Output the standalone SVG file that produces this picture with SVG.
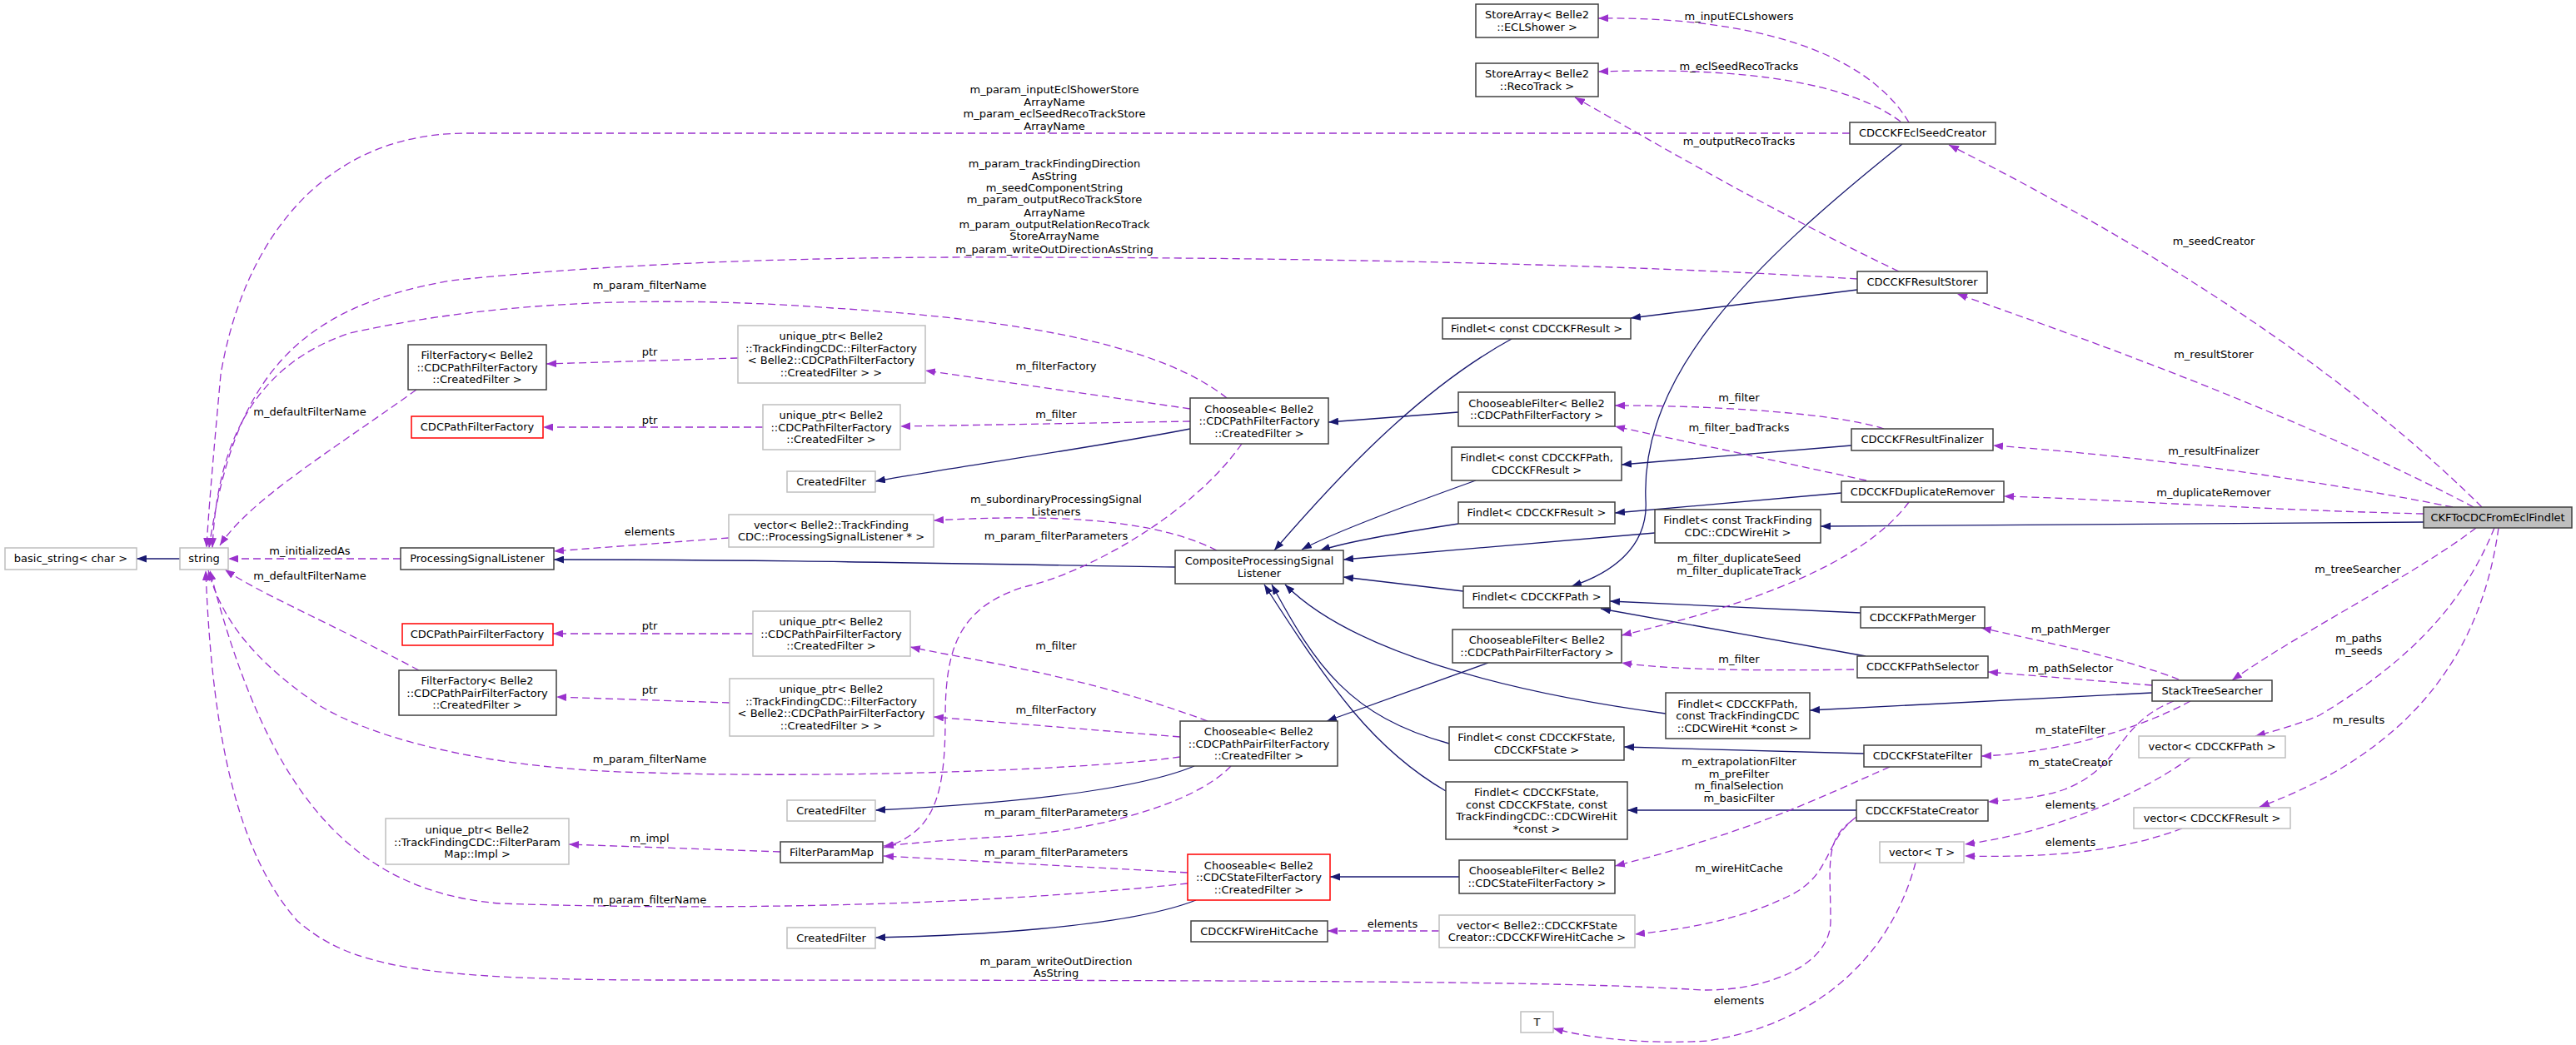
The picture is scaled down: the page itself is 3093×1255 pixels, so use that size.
<svg xmlns="http://www.w3.org/2000/svg" width="3093" height="1255" viewBox="0 0 3093 1255">
<style>
text{font-family:"DejaVu Sans","Liberation Sans",sans-serif;font-size:13px;fill:#000;text-anchor:middle}
.nb{fill:#fff;stroke:#404040;stroke-width:1.5}
.ng{fill:#fff;stroke:#bfbfbf;stroke-width:1.5}
.nr{fill:#fff;stroke:#ff0000;stroke-width:1.5}
.nm{fill:#bfbfbf;stroke:#404040;stroke-width:1.5}
.inh{fill:none;stroke:#191970;stroke-width:1.3;marker-end:url(#an)}
.use{fill:none;stroke:#9a32cd;stroke-width:1.3;stroke-dasharray:9,5;marker-end:url(#ap)}
</style>
<defs>
<marker id="an" markerUnits="userSpaceOnUse" markerWidth="12" markerHeight="9" refX="12" refY="4.5" orient="auto"><path d="M0,0 L12,4.5 L0,9 z" fill="#191970"/></marker>
<marker id="ap" markerUnits="userSpaceOnUse" markerWidth="12" markerHeight="9" refX="12" refY="4.5" orient="auto"><path d="M0,0 L12,4.5 L0,9 z" fill="#9a32cd"/></marker>
</defs>
<rect width="3093" height="1255" fill="#fff"/>
<g id="connectors">
<path class="inh" d="M216,671 L164,671"/>
<path class="inh" d="M1411,681 C1100,676 900,672 665,672"/>
<path class="inh" d="M1429,515 C1300,540 1150,560 1051,578"/>
<path class="inh" d="M1751,495 L1595,507"/>
<path class="inh" d="M1815,407 C1700,470 1600,580 1530,661"/>
<path class="inh" d="M2230,348 L1958,382"/>
<path class="inh" d="M2284,173 C2100,320 1970,450 1976,600 C1980,660 1930,690 1887,704"/>
<path class="inh" d="M2223,535 L1947,558"/>
<path class="inh" d="M1772,577 C1680,610 1600,640 1563,660"/>
<path class="inh" d="M1751,629 C1680,640 1620,650 1585,661"/>
<path class="inh" d="M1987,640 L1613,672"/>
<path class="inh" d="M1757,710 L1613,693"/>
<path class="inh" d="M2000,857 C1800,830 1620,780 1543,702"/>
<path class="inh" d="M1740,893 C1620,860 1580,800 1527,702"/>
<path class="inh" d="M1736,950 C1650,900 1600,830 1518,702"/>
<path class="inh" d="M1787,796 L1593,866"/>
<path class="inh" d="M1752,1053 L1597,1053"/>
<path class="inh" d="M1434,920 C1350,955 1150,968 1051,973"/>
<path class="inh" d="M1436,1081 C1350,1115 1150,1124 1051,1126"/>
<path class="inh" d="M2211,592 L1939,616"/>
<path class="inh" d="M2910,627 L2186,632"/>
<path class="inh" d="M2234,736 L1933,722"/>
<path class="inh" d="M2240,788 L1922,731"/>
<path class="inh" d="M2584,832 L2173,853"/>
<path class="inh" d="M2238,905 L1950,897"/>
<path class="inh" d="M2229,973 L1954,973"/>

<path class="use" d="M2292,147 C2240,60 2100,20 1919,22"/>
<path class="use" d="M2282,146 C2220,100 2100,80 1919,86"/>
<path class="use" d="M2280,326 C2100,240 1950,150 1891,117"/>
<path class="use" d="M2221,160 L560,160 C380,160 290,300 265,450 C255,560 250,620 248,658"/>
<path class="use" d="M2230,335 C2000,320 1600,308 1137,309 C900,310 700,320 541,337 C350,370 280,460 251,658"/>
<path class="use" d="M1473,478 C1400,420 1250,385 1000,370 C800,355 600,360 420,400 C300,440 260,540 255,658"/>
<path class="use" d="M500,468 C400,540 300,600 264,655"/>
<path class="use" d="M886,430 L656,437"/>
<path class="use" d="M916,513 L652,513"/>
<path class="use" d="M1429,491 L1111,445"/>
<path class="use" d="M1429,506 L1081,512"/>
<path class="use" d="M1491,533 C1430,620 1300,690 1229,705 C1150,730 1135,780 1135,863 C1135,960 1120,1000 1061,1018"/>
<path class="use" d="M1461,661 C1380,620 1250,618 1121,625"/>
<path class="use" d="M875,646 L665,662"/>
<path class="use" d="M481,671 L274,671"/>
<path class="use" d="M503,805 C400,750 310,712 270,684"/>
<path class="use" d="M904,761 L664,761"/>
<path class="use" d="M876,844 L668,837"/>
<path class="use" d="M1450,866 C1300,810 1150,790 1093,777"/>
<path class="use" d="M1417,885 L1121,861"/>
<path class="use" d="M1417,909 C1300,925 1000,935 780,928 C600,925 450,890 380,845 C300,790 265,740 250,685"/>
<path class="use" d="M1478,920 C1430,970 1300,1000 1200,1005 C1150,1008 1100,1012 1061,1016"/>
<path class="use" d="M1426,1048 L1061,1028"/>
<path class="use" d="M1426,1061 C1200,1085 900,1095 600,1085 C420,1070 320,950 252,685"/>
<path class="use" d="M937,1023 L683,1014"/>
<path class="use" d="M2223,986 C2190,1010 2198,1040 2198,1106 C2198,1160 2120,1190 2045,1189 C1900,1180 1700,1177 800,1177 C500,1177 420,1160 357,1106 C290,1030 255,900 247,685"/>
<path class="use" d="M2229,981 C2190,1010 2200,1050 2150,1075 C2080,1110 2000,1118 1963,1122"/>
<path class="use" d="M1728,1118 L1594,1118"/>
<path class="use" d="M2300,1036 C2270,1150 2180,1230 2050,1250 C1970,1255 1900,1245 1865,1235"/>
<path class="use" d="M2241,577 L1939,512"/>
<path class="use" d="M2262,515 C2200,495 2050,487 1939,487"/>
<path class="use" d="M2292,603 C2250,660 2150,715 1947,763"/>
<path class="use" d="M2226,804 C2100,806 2000,804 1947,796"/>
<path class="use" d="M2269,921 C2180,960 2100,1000 1939,1040"/>
<path class="use" d="M2980,609 C2850,480 2650,330 2340,174"/>
<path class="use" d="M2970,609 C2800,520 2600,440 2350,353"/>
<path class="use" d="M2945,609 C2800,580 2600,550 2393,535"/>
<path class="use" d="M2910,617 C2700,612 2550,600 2406,596"/>
<path class="use" d="M2973,634 C2900,690 2760,760 2680,817"/>
<path class="use" d="M2995,634 C2960,720 2900,790 2785,859 C2760,870 2730,878 2708,884"/>
<path class="use" d="M3000,634 C2980,780 2900,900 2713,969"/>
<path class="use" d="M2616,816 C2550,790 2450,770 2379,754"/>
<path class="use" d="M2584,823 L2387,807"/>
<path class="use" d="M2630,842 C2560,880 2460,905 2379,908"/>
<path class="use" d="M2610,842 C2540,870 2550,920 2479,948 C2450,958 2420,960 2387,963"/>
<path class="use" d="M2630,910 C2560,960 2460,1000 2359,1014"/>
<path class="use" d="M2620,995 C2540,1025 2450,1030 2359,1028"/>

<g id="labels">
<text x="2088" y="24">m_inputECLshowers</text>
<text x="2088" y="84">m_eclSeedRecoTracks</text>
<text x="2088" y="174">m_outputRecoTracks</text>
<text x="1266" y="112">m_param_inputEclShowerStore</text>
<text x="1266" y="127">ArrayName</text>
<text x="1266" y="141">m_param_eclSeedRecoTrackStore</text>
<text x="1266" y="156">ArrayName</text>
<text x="1266" y="201">m_param_trackFindingDirection</text>
<text x="1266" y="216">AsString</text>
<text x="1266" y="230">m_seedComponentString</text>
<text x="1266" y="244">m_param_outputRecoTrackStore</text>
<text x="1266" y="260">ArrayName</text>
<text x="1266" y="274">m_param_outputRelationRecoTrack</text>
<text x="1266" y="288">StoreArrayName</text>
<text x="1266" y="304">m_param_writeOutDirectionAsString</text>
<text x="780" y="347">m_param_filterName</text>
<text x="372" y="499">m_defaultFilterName</text>
<text x="780" y="427">ptr</text>
<text x="780" y="509">ptr</text>
<text x="1268" y="444">m_filterFactory</text>
<text x="1268" y="502">m_filter</text>
<text x="1268" y="604">m_subordinaryProcessingSignal</text>
<text x="1268" y="619">Listeners</text>
<text x="1268" y="648">m_param_filterParameters</text>
<text x="780" y="643">elements</text>
<text x="372" y="666">m_initializedAs</text>
<text x="372" y="696">m_defaultFilterName</text>
<text x="780" y="756">ptr</text>
<text x="780" y="833">ptr</text>
<text x="1268" y="780">m_filter</text>
<text x="1268" y="857">m_filterFactory</text>
<text x="780" y="916">m_param_filterName</text>
<text x="1268" y="980">m_param_filterParameters</text>
<text x="1268" y="1028">m_param_filterParameters</text>
<text x="780" y="1085">m_param_filterName</text>
<text x="780" y="1011">m_impl</text>
<text x="1268" y="1159">m_param_writeOutDirection</text>
<text x="1268" y="1173">AsString</text>
<text x="2088" y="1047">m_wireHitCache</text>
<text x="1672" y="1114">elements</text>
<text x="2088" y="1206">elements</text>
<text x="2088" y="518">m_filter_badTracks</text>
<text x="2088" y="482">m_filter</text>
<text x="2088" y="675">m_filter_duplicateSeed</text>
<text x="2088" y="690">m_filter_duplicateTrack</text>
<text x="2088" y="796">m_filter</text>
<text x="2088" y="919">m_extrapolationFilter</text>
<text x="2088" y="934">m_preFilter</text>
<text x="2088" y="948">m_finalSelection</text>
<text x="2088" y="963">m_basicFilter</text>
<text x="2658" y="294">m_seedCreator</text>
<text x="2658" y="430">m_resultStorer</text>
<text x="2658" y="546">m_resultFinalizer</text>
<text x="2658" y="596">m_duplicateRemover</text>
<text x="2831" y="688">m_treeSearcher</text>
<text x="2832" y="771">m_paths</text>
<text x="2832" y="786">m_seeds</text>
<text x="2832" y="869">m_results</text>
<text x="2486" y="760">m_pathMerger</text>
<text x="2486" y="807">m_pathSelector</text>
<text x="2486" y="881">m_stateFilter</text>
<text x="2486" y="920">m_stateCreator</text>
<text x="2486" y="971">elements</text>
<text x="2486" y="1016">elements</text>
</g>
</g>

<g id="n_basic"><rect class="ng" x="6" y="658" width="158" height="26"/><text x="85" y="675">basic_string&lt; char &gt;</text></g>
<g id="n_string"><rect class="ng" x="216" y="658" width="58" height="26"/><text x="245" y="675">string</text></g>
<g id="n_psl"><rect class="nb" x="481" y="658" width="184" height="26"/><text x="573" y="675">ProcessingSignalListener</text></g>
<g id="n_ffpath"><rect class="nb" x="490" y="414" width="166" height="54"/><text x="573" y="431">FilterFactory&lt; Belle2</text><text x="573" y="445.5">::CDCPathFilterFactory</text><text x="573" y="460">::CreatedFilter &gt;</text></g>
<g id="n_cdcpff"><rect class="nr" x="494" y="500" width="158" height="26"/><text x="573" y="517">CDCPathFilterFactory</text></g>
<g id="n_cdcppff"><rect class="nr" x="483" y="749" width="181" height="26"/><text x="573" y="766">CDCPathPairFilterFactory</text></g>
<g id="n_ffpair"><rect class="nb" x="479" y="805" width="189" height="54"/><text x="573" y="822">FilterFactory&lt; Belle2</text><text x="573" y="836.5">::CDCPathPairFilterFactory</text><text x="573" y="851">::CreatedFilter &gt;</text></g>
<g id="n_upimpl"><rect class="ng" x="463" y="983" width="220" height="55"/><text x="573" y="1001">unique_ptr&lt; Belle2</text><text x="573" y="1015.5">::TrackFindingCDC::FilterParam</text><text x="573" y="1030">Map::Impl &gt;</text></g>
<g id="n_upffpath"><rect class="ng" x="886" y="391" width="225" height="69"/><text x="998" y="408">unique_ptr&lt; Belle2</text><text x="998" y="422.5">::TrackFindingCDC::FilterFactory</text><text x="998" y="437">&lt; Belle2::CDCPathFilterFactory</text><text x="998" y="451.5">::CreatedFilter &gt; &gt;</text></g>
<g id="n_uppathcf"><rect class="ng" x="916" y="486" width="165" height="54"/><text x="998" y="503">unique_ptr&lt; Belle2</text><text x="998" y="517.5">::CDCPathFilterFactory</text><text x="998" y="532">::CreatedFilter &gt;</text></g>
<g id="n_cf1"><rect class="ng" x="945" y="566" width="106" height="25"/><text x="998" y="583">CreatedFilter</text></g>
<g id="n_chpath"><rect class="nb" x="1429" y="478" width="166" height="55"/><text x="1512" y="495.5">Chooseable&lt; Belle2</text><text x="1512" y="510">::CDCPathFilterFactory</text><text x="1512" y="524.5">::CreatedFilter &gt;</text></g>
<g id="n_vecpsl"><rect class="ng" x="875" y="618" width="246" height="39"/><text x="998" y="634.5">vector&lt; Belle2::TrackFinding</text><text x="998" y="649">CDC::ProcessingSignalListener * &gt;</text></g>
<g id="n_comp"><rect class="nb" x="1411" y="661" width="202" height="40"/><text x="1512" y="678">CompositeProcessingSignal</text><text x="1512" y="692.5">Listener</text></g>
<g id="n_uppaircf"><rect class="ng" x="904" y="734" width="189" height="54"/><text x="998" y="751">unique_ptr&lt; Belle2</text><text x="998" y="765.5">::CDCPathPairFilterFactory</text><text x="998" y="780">::CreatedFilter &gt;</text></g>
<g id="n_upffpair"><rect class="ng" x="876" y="815" width="245" height="69"/><text x="998" y="832">unique_ptr&lt; Belle2</text><text x="998" y="846.5">::TrackFindingCDC::FilterFactory</text><text x="998" y="861">&lt; Belle2::CDCPathPairFilterFactory</text><text x="998" y="875.5">::CreatedFilter &gt; &gt;</text></g>
<g id="n_chpair"><rect class="nb" x="1417" y="866" width="189" height="54"/><text x="1511.5" y="883">Chooseable&lt; Belle2</text><text x="1511.5" y="897.5">::CDCPathPairFilterFactory</text><text x="1511.5" y="912">::CreatedFilter &gt;</text></g>
<g id="n_cf2"><rect class="ng" x="945" y="961" width="106" height="25"/><text x="998" y="978">CreatedFilter</text></g>
<g id="n_fpm"><rect class="nb" x="937" y="1011" width="123" height="25"/><text x="998.5" y="1028">FilterParamMap</text></g>
<g id="n_chstate"><rect class="nr" x="1426" y="1026" width="171" height="55"/><text x="1511.5" y="1043.5">Chooseable&lt; Belle2</text><text x="1511.5" y="1058">::CDCStateFilterFactory</text><text x="1511.5" y="1072.5">::CreatedFilter &gt;</text></g>
<g id="n_cf3"><rect class="ng" x="945" y="1114" width="106" height="25"/><text x="998" y="1131">CreatedFilter</text></g>
<g id="n_whc"><rect class="nb" x="1430" y="1106" width="164" height="25"/><text x="1512" y="1123">CDCCKFWireHitCache</text></g>
<g id="n_saecl"><rect class="nb" x="1772" y="5" width="147" height="40"/><text x="1845.5" y="22">StoreArray&lt; Belle2</text><text x="1845.5" y="36.5">::ECLShower &gt;</text></g>
<g id="n_sareco"><rect class="nb" x="1772" y="76" width="147" height="40"/><text x="1845.5" y="93">StoreArray&lt; Belle2</text><text x="1845.5" y="107.5">::RecoTrack &gt;</text></g>
<g id="n_ecl"><rect class="nb" x="2221" y="147" width="175" height="26"/><text x="2308.5" y="164">CDCCKFEclSeedCreator</text></g>
<g id="n_storer"><rect class="nb" x="2230" y="326" width="156" height="26"/><text x="2308" y="343">CDCCKFResultStorer</text></g>
<g id="n_fcres"><rect class="nb" x="1732" y="382" width="226" height="25"/><text x="1845" y="399">Findlet&lt; const CDCCKFResult &gt;</text></g>
<g id="n_cfpath"><rect class="nb" x="1751" y="471" width="188" height="41"/><text x="1845" y="488.5">ChooseableFilter&lt; Belle2</text><text x="1845" y="503">::CDCPathFilterFactory &gt;</text></g>
<g id="n_final"><rect class="nb" x="2223" y="515" width="170" height="26"/><text x="2308" y="532">CDCCKFResultFinalizer</text></g>
<g id="n_fcpathres"><rect class="nb" x="1743" y="537" width="204" height="40"/><text x="1845" y="554">Findlet&lt; const CDCCKFPath,</text><text x="1845" y="568.5">CDCCKFResult &gt;</text></g>
<g id="n_dup"><rect class="nb" x="2211" y="578" width="195" height="25"/><text x="2308.5" y="595">CDCCKFDuplicateRemover</text></g>
<g id="n_fres"><rect class="nb" x="1751" y="603" width="188" height="26"/><text x="1845" y="620">Findlet&lt; CDCCKFResult &gt;</text></g>
<g id="n_fwh"><rect class="nb" x="1987" y="612" width="199" height="40"/><text x="2086.5" y="629">Findlet&lt; const TrackFinding</text><text x="2086.5" y="643.5">CDC::CDCWireHit &gt;</text></g>
<g id="n_fpath"><rect class="nb" x="1757" y="704" width="176" height="26"/><text x="1845" y="721">Findlet&lt; CDCCKFPath &gt;</text></g>
<g id="n_merger"><rect class="nb" x="2234" y="729" width="149" height="25"/><text x="2308.5" y="746">CDCCKFPathMerger</text></g>
<g id="n_cfpair"><rect class="nb" x="1744" y="756" width="203" height="40"/><text x="1845.5" y="773">ChooseableFilter&lt; Belle2</text><text x="1845.5" y="787.5">::CDCPathPairFilterFactory &gt;</text></g>
<g id="n_selector"><rect class="nb" x="2230" y="788" width="157" height="26"/><text x="2308.5" y="805">CDCCKFPathSelector</text></g>
<g id="n_fpathwh"><rect class="nb" x="2000" y="832" width="173" height="55"/><text x="2086.5" y="849.5">Findlet&lt; CDCCKFPath,</text><text x="2086.5" y="864">const TrackFindingCDC</text><text x="2086.5" y="878.5">::CDCWireHit *const &gt;</text></g>
<g id="n_fstate"><rect class="nb" x="1740" y="873" width="210" height="40"/><text x="1845" y="890">Findlet&lt; const CDCCKFState,</text><text x="1845" y="904.5">CDCCKFState &gt;</text></g>
<g id="n_sfilter"><rect class="nb" x="2238" y="895" width="141" height="26"/><text x="2308.5" y="912">CDCCKFStateFilter</text></g>
<g id="n_fstatewh"><rect class="nb" x="1736" y="939" width="218" height="69"/><text x="1845" y="956">Findlet&lt; CDCCKFState,</text><text x="1845" y="970.5">const CDCCKFState, const</text><text x="1845" y="985">TrackFindingCDC::CDCWireHit</text><text x="1845" y="999.5">*const &gt;</text></g>
<g id="n_screator"><rect class="nb" x="2229" y="961" width="158" height="25"/><text x="2308" y="978">CDCCKFStateCreator</text></g>
<g id="n_vect"><rect class="ng" x="2257" y="1011" width="101" height="25"/><text x="2307.5" y="1028">vector&lt; T &gt;</text></g>
<g id="n_cfstate"><rect class="nb" x="1752" y="1033" width="187" height="40"/><text x="1845.5" y="1050">ChooseableFilter&lt; Belle2</text><text x="1845.5" y="1064.5">::CDCStateFilterFactory &gt;</text></g>
<g id="n_vecwhc"><rect class="ng" x="1728" y="1099" width="235" height="39"/><text x="1845.5" y="1115.5">vector&lt; Belle2::CDCCKFState</text><text x="1845.5" y="1130">Creator::CDCCKFWireHitCache &gt;</text></g>
<g id="n_T"><rect class="ng" x="1826" y="1215" width="39" height="25"/><text x="1845.5" y="1232">T</text></g>
<g id="n_main"><rect class="nm" x="2910" y="609" width="178" height="25"/><text x="2999" y="626">CKFToCDCFromEclFindlet</text></g>
<g id="n_sts"><rect class="nb" x="2584" y="817" width="144" height="25"/><text x="2656" y="834">StackTreeSearcher</text></g>
<g id="n_vecpath"><rect class="ng" x="2568" y="884" width="176" height="26"/><text x="2656" y="901">vector&lt; CDCCKFPath &gt;</text></g>
<g id="n_vecres"><rect class="ng" x="2562" y="970" width="188" height="25"/><text x="2656" y="987">vector&lt; CDCCKFResult &gt;</text></g>
</svg>
